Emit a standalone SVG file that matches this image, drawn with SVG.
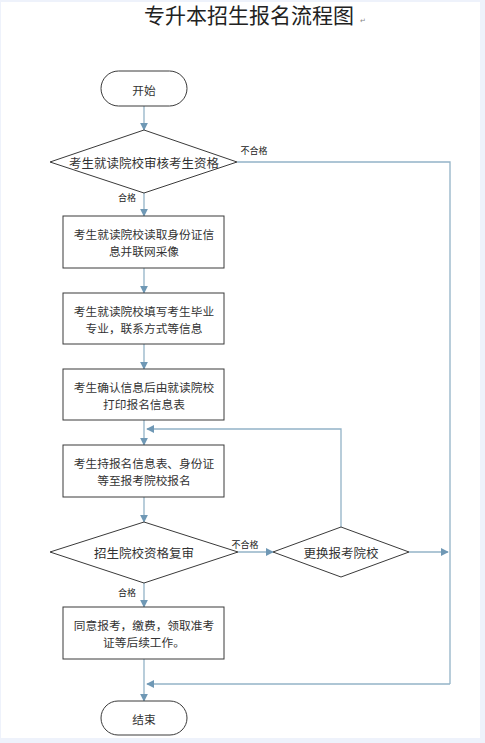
<svg xmlns="http://www.w3.org/2000/svg" width="485" height="743" viewBox="0 0 485 743">
<style>
.bg{fill:#eef2fb}
.page{fill:#ffffff}
.shape{fill:#ffffff;stroke:#3a3a3a;stroke-width:1}
.t{font-family:"Noto Sans CJK SC","Liberation Sans",sans-serif;fill:#333333;text-anchor:middle;dominant-baseline:central}
.n{font-size:11.7px}
.lbl{font-size:9px;fill:#222222}
.title{font-family:"Noto Sans CJK SC","Liberation Sans",sans-serif;font-size:21px;fill:#222222;text-anchor:middle}
.c{fill:none;stroke:#93b3c7;stroke-width:1.3}
.ca{fill:none;stroke:#93b3c7;stroke-width:1.3;marker-end:url(#ah)}
</style>
<defs>
<marker id="ah" viewBox="0 0 10 10" refX="9" refY="5" markerWidth="8" markerHeight="8" markerUnits="userSpaceOnUse" orient="auto">
<path d="M0,0 L10,5 L0,10 z" fill="#6f98b5"/>
</marker>
</defs>
<rect class="bg" x="0" y="0" width="485" height="743"/>
<rect class="page" x="1" y="2" width="479" height="736"/>
<g id="title">
<text class="title" x="249" y="23">专升本招生报名流程图</text>
<text x="360" y="23" font-family="DejaVu Sans,sans-serif" font-size="7" fill="#888888">↵</text>
</g>
<g id="connectors">
<line class="ca" x1="144" y1="106" x2="144" y2="130"/>
<line class="ca" x1="144" y1="193" x2="144" y2="216"/>
<line class="ca" x1="144" y1="268" x2="144" y2="293"/>
<line class="ca" x1="144" y1="344" x2="144" y2="369"/>
<line class="ca" x1="144" y1="420" x2="144" y2="445"/>
<line class="ca" x1="144" y1="497" x2="144" y2="522"/>
<line class="ca" x1="144" y1="583" x2="144" y2="607"/>
<line class="ca" x1="144" y1="659" x2="144" y2="701"/>
<polyline class="c" points="237,162 450,162 450,684"/>
<polyline class="ca" points="450,684 147,684"/>
<polyline class="ca" points="341,527 341,429 147,429"/>
<line class="ca" x1="238" y1="552" x2="273" y2="552"/>
<line class="ca" x1="409" y1="552" x2="448" y2="552"/>
<text class="t lbl" x="254" y="150">不合格</text>
<text class="t lbl" x="127" y="197">合格</text>
<text class="t lbl" x="245" y="544">不合格</text>
<text class="t lbl" x="127" y="592">合格</text>
</g>
<g id="start">
<rect class="shape" x="101" y="71" width="86" height="35" rx="17.5"/>
<text class="t n" x="144" y="89">开始</text>
</g>
<g id="check1">
<polygon class="shape" points="144,130 237,162 144,193 50,162"/>
<text class="t" x="144" y="162" font-size="12.5">考生就读院校审核考生资格</text>
</g>
<g id="box1">
<rect class="shape" x="63" y="216" width="161" height="52"/>
<text class="t n" x="144" y="233.5">考生就读院校读取身份证信</text>
<text class="t n" x="144" y="250.5">息并联网采像</text>
</g>
<g id="box2">
<rect class="shape" x="63" y="293" width="161" height="51"/>
<text class="t n" x="144" y="310">考生就读院校填写考生毕业</text>
<text class="t n" x="144" y="327">专业，联系方式等信息</text>
</g>
<g id="box3">
<rect class="shape" x="63" y="369" width="161" height="51"/>
<text class="t n" x="144" y="386">考生确认信息后由就读院校</text>
<text class="t n" x="144" y="403">打印报名信息表</text>
</g>
<g id="box4">
<rect class="shape" x="63" y="445" width="161" height="52"/>
<text class="t n" x="144" y="462.5">考生持报名信息表、身份证</text>
<text class="t n" x="144" y="479.5">等至报考院校报名</text>
</g>
<g id="check2">
<polygon class="shape" points="144,522 238,552 144,583 50,552"/>
<text class="t" x="144" y="552" font-size="12.5">招生院校资格复审</text>
</g>
<g id="change">
<polygon class="shape" points="341,527 409,552 341,577 273,552"/>
<text class="t" x="341" y="552" font-size="12.5">更换报考院校</text>
</g>
<g id="box5">
<rect class="shape" x="63" y="607" width="161" height="52"/>
<text class="t n" x="144" y="624.5">同意报考，缴费，领取准考</text>
<text class="t n" x="144" y="641.5">证等后续工作。</text>
</g>
<g id="end">
<rect class="shape" x="101" y="701" width="86" height="34" rx="17"/>
<text class="t n" x="144" y="718">结束</text>
</g>
</svg>
